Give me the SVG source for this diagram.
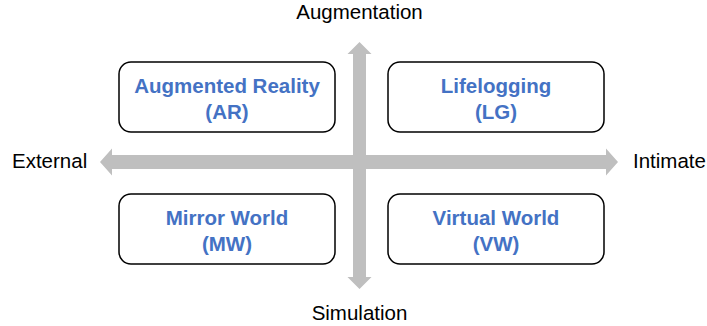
<svg xmlns="http://www.w3.org/2000/svg" width="707" height="326" viewBox="0 0 707 326">
  <style>
    .axis { fill: #BFBFBF; }
    .box { fill: #FFFFFF; stroke: #000000; stroke-width: 1.5; }
    .label { font-family: "Liberation Sans", Arial, sans-serif; font-size: 20.5px; font-weight: bold; fill: #4472C4; text-anchor: middle; }
    .pole { font-family: "Liberation Sans", Arial, sans-serif; font-size: 20.5px; fill: #000000; }
  </style>
  <rect width="707" height="326" fill="#FFFFFF"/>

  <!-- two double-headed axes -->
  <g id="connectors">
    <polygon class="axis" points="100,162 112,148.5 112,155 606,155 606,148.5 618,162 606,175.5 606,169 112,169 112,175.5"/>
    <polygon class="axis" points="359.5,42 371.5,54 366,54 366,277 371.5,277 359.5,289 347.5,277 353,277 353,54 347.5,54"/>
  </g>

  <!-- axis end labels -->
  <text class="pole" x="359.5" y="19" text-anchor="middle">Augmentation</text>
  <text class="pole" x="359.5" y="320" text-anchor="middle">Simulation</text>
  <text class="pole" x="12" y="168">External</text>
  <text class="pole" x="633" y="168">Intimate</text>

  <!-- quadrants -->
  <g id="ar">
    <rect class="box" x="119" y="62" width="216" height="70" rx="12"/>
    <text class="label" x="227" y="93">Augmented Reality</text>
    <text class="label" x="227" y="119">(AR)</text>
  </g>
  <g id="lg">
    <rect class="box" x="388" y="62" width="216" height="70" rx="12"/>
    <text class="label" x="496" y="93">Lifelogging</text>
    <text class="label" x="496" y="119">(LG)</text>
  </g>
  <g id="mw">
    <rect class="box" x="119" y="194" width="216" height="70" rx="12"/>
    <text class="label" x="227" y="225">Mirror World</text>
    <text class="label" x="227" y="251">(MW)</text>
  </g>
  <g id="vw">
    <rect class="box" x="388" y="194" width="216" height="70" rx="12"/>
    <text class="label" x="496" y="225">Virtual World</text>
    <text class="label" x="496" y="251">(VW)</text>
  </g>
</svg>
